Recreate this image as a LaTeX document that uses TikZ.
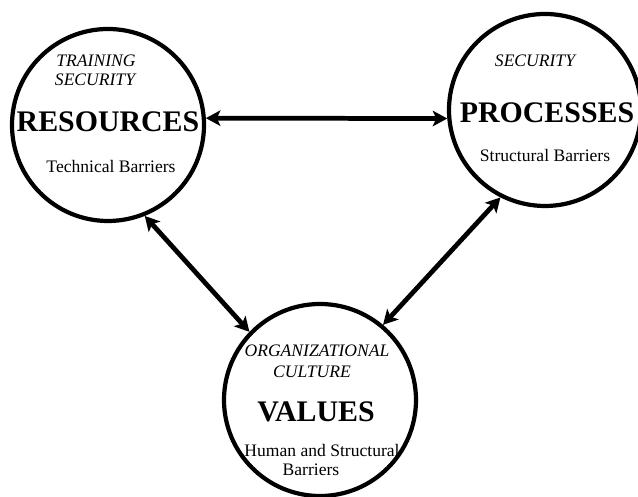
\documentclass[tikz,border=0pt]{standalone}
\usepackage{fontspec}
\setmainfont{Liberation Serif}
\usetikzlibrary{arrows.meta}

\begin{document}
\begin{tikzpicture}[x=1cm, y=1cm,
    pillar/.style={draw, circle, line width=2.4pt, minimum size=3.84cm, inner sep=0pt},
    link/.style={{Stealth[length=0.29cm,width=0.31cm,inset=0.07cm]}-{Stealth[length=0.29cm,width=0.31cm,inset=0.07cm]}, line width=2.7pt},
    topic/.style={font=\fontsize{10}{12}\selectfont\itshape},
    heading/.style={font=\fontsize{17}{20}\selectfont\bfseries},
    barrier/.style={font=\fontsize{10}{12}\selectfont}]

      \useasboundingbox (0,0) rectangle (12.76,9.94);

      \node[pillar] (res) at (2.16,7.44) {};
      \node[pillar] (proc) at (10.90,7.74) {};
      \node[pillar] (val) at (6.40,1.94) {};

      % resources
      \node[topic] (res-t1) at (1.92,8.72) {TRAINING};
      \node[topic] (res-t2) at (1.90,8.34) {SECURITY};
      \node[heading] (res-h) at (2.16,7.50) {RESOURCES};
      \node[barrier] (res-b) at (2.22,6.62) {Technical Barriers};

      % processes
      \node[topic] (proc-t1) at (10.70,8.72) {SECURITY};
      \node[heading] (proc-h) at (10.94,7.68) {PROCESSES};
      \node[barrier] (proc-b) at (10.90,6.82) {Structural Barriers};

      % values
      \node[topic] (val-t1) at (6.34,2.92) {ORGANIZATIONAL};
      \node[topic] (val-t2) at (6.24,2.50) {CULTURE};
      \node[heading] (val-h) at (6.32,1.70) {VALUES};
      \node[barrier] (val-b1) at (6.44,0.94) {Human and Structural};
      \node[barrier] (val-b2) at (6.22,0.54) {Barriers};

      \draw[link] (res.4) -- (proc.185);
      \draw[link] (res.-68) -- (val.136);
      \draw[link] (val.50) -- (proc.-117);
    \end{tikzpicture}
\end{document}
